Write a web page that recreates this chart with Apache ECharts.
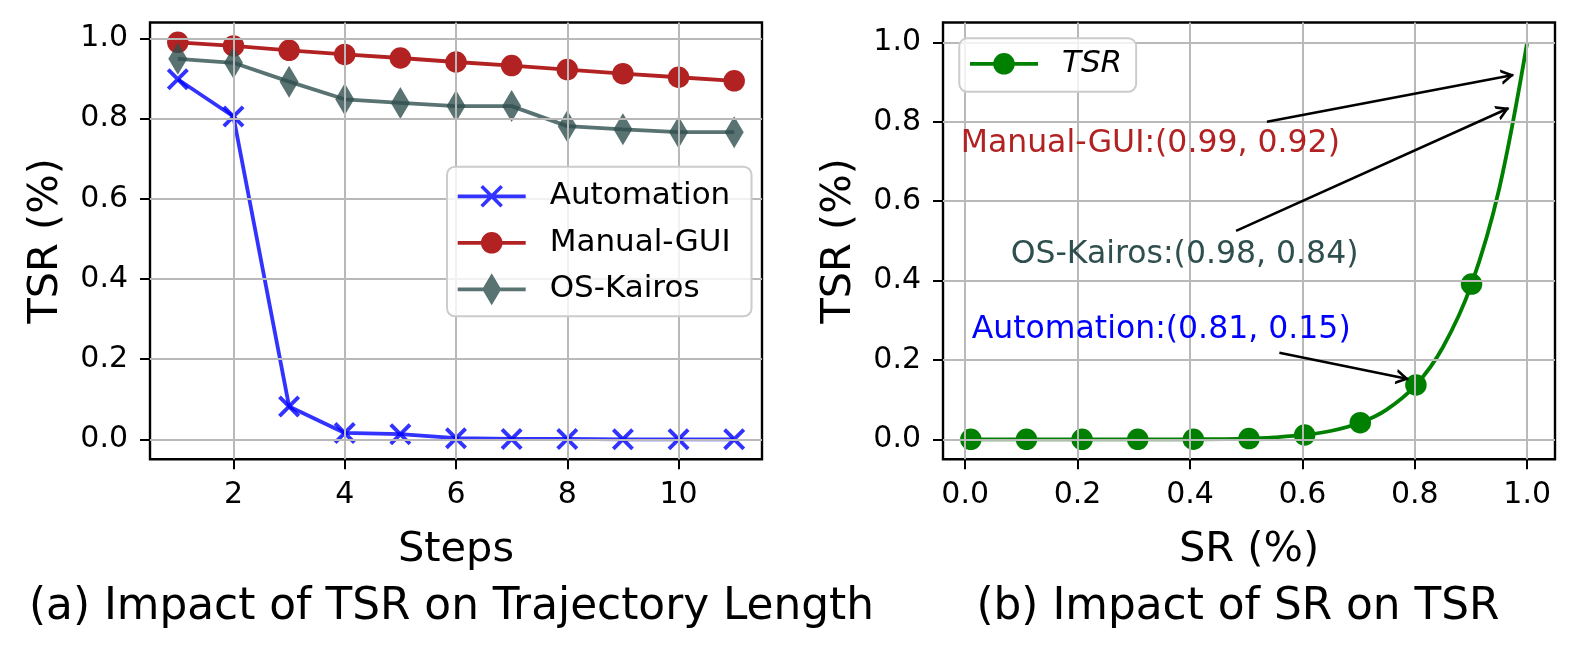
<!DOCTYPE html>
<html>
<head>
<meta charset="utf-8">
<script src="https://cdn.jsdelivr.net/npm/echarts@6/dist/echarts.min.js"></script>
<style>
html,body{margin:0;padding:0;background:#ffffff;}
#c{width:1578px;height:656px;}
</style>
</head>
<body>
<div id="c"></div>
<script>
// ---------- data ----------
const steps = [1, 2, 3, 4, 5, 6, 7, 8, 9, 10, 11];
const automation = [0.898, 0.805, 0.082, 0.016, 0.013, 0.003, 0.001, 0.001, 0.0, 0.0, 0.0];
const manualGUI  = [0.990, 0.981, 0.970, 0.960, 0.951, 0.941, 0.932, 0.922, 0.912, 0.903, 0.894];
const osKairos   = [0.949, 0.939, 0.892, 0.848, 0.839, 0.831, 0.831, 0.781, 0.773, 0.766, 0.766];

const markerSR  = [0.01, 0.109, 0.208, 0.307, 0.406, 0.505, 0.604, 0.703, 0.802, 0.901];
const markerTSR = [0.0, 0.0, 0.0, 0.0, 0.0003, 0.002, 0.011, 0.042, 0.137, 0.391];
const curveSR   = [0.55, 0.65, 0.75, 0.85, 0.95, 1.0];
const curveTSR  = [0.005, 0.021, 0.075, 0.232, 0.630, 1.0];

const annoText = ['Manual-GUI:(0.99, 0.92)', 'OS-Kairos:(0.98, 0.84)', 'Automation:(0.81, 0.15)'];
const annoTextPos = [[-0.008, 0.745], [0.081, 0.466], [0.0116, 0.277]];
const arrowFrom = [[0.537, 0.800], [0.482, 0.525], [0.559, 0.218]];
const arrowTo   = [[0.975, 0.918], [0.9665, 0.834], [0.788, 0.152]];

const stepTicks = [2, 4, 6, 8, 10];
const unitTicks = [0, 0.2, 0.4, 0.6, 0.8, 1.0];

// ---------- styling ----------
const FONT = 'DejaVu Sans';
const GRID_COLOR = '#b9b9b9';
const C_AUTO = 'rgba(0,0,255,0.8)';
const C_MAN = '#b22222';
const C_KAI = 'rgba(47,79,79,0.8)';
const C_TSR = '#008000';
const LW = 3.8;
const annoColors = ['#b22222', '#2f4f4f', '#0000ff'];

const xSym = 'path://M2.5,0 L10,7.5 L17.5,0 L20,2.5 L12.5,10 L20,17.5 L17.5,20 L10,12.5 L2.5,20 L0,17.5 L7.5,10 L0,2.5 Z';
const dSym = 'path://M5,0 L10,8 L5,16 L0,8 Z';
const arrowSym = 'path://M0,0 L0.01,0 L0,0.01 Z M20,20 L19.99,20 L20,19.99 Z M10,9 L16.5,20 L13.95,20 L10,13.32 L6.05,20 L3.5,20 Z';

const corners = 'M0,0 L0.01,0 L0,0.01 Z M68,32 L67.99,32 L68,31.99 Z ';
const barFull = 'M0,14.1 L68,14.1 L68,17.9 L0,17.9 Z ';
const barSplit = 'M0,14.1 L23.3,14.1 L23.3,17.9 L0,17.9 Z M44.7,14.1 L68,14.1 L68,17.9 L44.7,17.9 Z ';
const circ = 'M23.2,16 A10.8,10.8 0 1 1 44.8,16 A10.8,10.8 0 1 1 23.2,16 Z ';
const xIcon = 'M25.25,4.75 L45.25,24.75 L42.75,27.25 L22.75,7.25 Z M45.25,7.25 L25.25,27.25 L22.75,24.75 L42.75,4.75 Z ';
const dIcon = 'M34,0 L43.5,16 L34,32 L24.5,16 Z ';
const iconAuto = 'path://' + corners + barFull + xIcon;
const iconCirc = 'path://' + corners + barSplit + circ;
const iconKai = 'path://' + corners + barFull + dIcon;

function fmt1(v) { return Number(v).toFixed(1); }

function axis(gridIndex, min, max, ticks, formatter, name, nameGap, isY) {
  return {
    type: 'value', gridIndex: gridIndex, min: min, max: max,
    axisLine: { show: false, onZero: false },
    axisTick: { show: true, customValues: ticks, length: 10, lineStyle: { color: '#000', width: 2 } },
    axisLabel: { show: true, customValues: ticks, formatter: formatter, color: '#000',
                 fontFamily: FONT, fontSize: 30, margin: isY ? 22 : 21.5 },
    splitLine: { show: false },
    name: name, nameLocation: 'middle', nameGap: nameGap,
    nameTextStyle: { fontFamily: FONT, fontSize: 41.5, color: '#000' }
  };
}

function gridLines(xi, ticksX, ticksY) {
  return {
    type: 'line', name: '_grid' + xi, xAxisIndex: xi, yAxisIndex: xi, data: [], z: 1, silent: true,
    markLine: {
      silent: true, symbol: ['none', 'none'], label: { show: false },
      lineStyle: { color: GRID_COLOR, width: 2, type: 'solid' },
      emphasis: { disabled: true },
      data: ticksX.map(v => ({ xAxis: v })).concat(ticksY.map(v => ({ yAxis: v })))
    }
  };
}

// merge marker points and curve-only points for the TSR line
const tsrPoints = markerSR.map((x, i) => ({ value: [x, markerTSR[i]] }))
  .concat(curveSR.map((x, i) => ({ value: [x, curveTSR[i]], symbol: 'none' })))
  .sort((a, b) => a.value[0] - b.value[0]);

const legendCommon = {
  orient: 'vertical', itemWidth: 68, itemHeight: 32, itemGap: 14.5, z: 20,
  backgroundColor: 'rgba(255,255,255,0.8)', borderColor: '#cccccc', borderWidth: 2, borderRadius: 8,
  selectedMode: false, itemStyle: { borderWidth: 0 }
};

const option = {
  animation: false,
  backgroundColor: '#ffffff',
  textStyle: { fontFamily: FONT },
  grid: [
    { left: 150, top: 22.5, width: 612, height: 436.7, show: true, borderColor: '#000', borderWidth: 2.4, backgroundColor: 'transparent', containLabel: false },
    { left: 943, top: 22.5, width: 612, height: 436.7, show: true, borderColor: '#000', borderWidth: 2.4, backgroundColor: 'transparent', containLabel: false }
  ],
  xAxis: [
    axis(0, 0.5, 11.5, stepTicks, v => String(v), 'Steps', 70, false),
    axis(1, -0.0395, 1.0495, unitTicks, fmt1, 'SR (%)', 70, false)
  ],
  yAxis: [
    axis(0, -0.0495, 1.0395, unitTicks, fmt1, 'TSR (%)', 83, true),
    axis(1, -0.05, 1.05, unitTicks, fmt1, 'TSR (%)', 83, true)
  ],
  legend: [
    Object.assign({}, legendCommon, {
      left: 447, top: 166.7, padding: [13.6, 21, 11, 10.7],
      data: [{ name: 'Automation', icon: iconAuto }, { name: 'Manual-GUI', icon: iconCirc }, { name: 'OS-Kairos', icon: iconKai }],
      textStyle: { fontFamily: FONT, fontSize: 31, color: '#000', padding: [0, 0, 0, 19] }
    }),
    Object.assign({}, legendCommon, {
      left: 959.3, top: 38.3, padding: [9.5, 14, 12, 10.7],
      data: [{ name: 'TSR', icon: iconCirc }],
      textStyle: { fontFamily: FONT, fontSize: 31, color: '#000', fontStyle: 'italic', padding: [0, 0, 0, 19] }
    })
  ],
  graphic: [
    { type: 'text', x: 451.5, y: 608, silent: true,
      style: { text: '(a) Impact of TSR on Trajectory Length', fontFamily: FONT, fontSize: 43.8, fill: '#000', align: 'center', verticalAlign: 'middle' } },
    { type: 'text', x: 1238, y: 608, silent: true,
      style: { text: '(b) Impact of SR on TSR', fontFamily: FONT, fontSize: 43.8, fill: '#000', align: 'center', verticalAlign: 'middle' } }
  ],
  series: [
    gridLines(0, stepTicks, unitTicks),
    gridLines(1, unitTicks, unitTicks),
    {
      name: 'Automation', type: 'line', xAxisIndex: 0, yAxisIndex: 0, z: 3,
      data: steps.map((s, i) => [s, automation[i]]),
      symbol: xSym, symbolSize: 22,
      lineStyle: { color: C_AUTO, width: LW }, itemStyle: { color: C_AUTO, borderWidth: 0 }
    },
    {
      name: 'Manual-GUI', type: 'line', xAxisIndex: 0, yAxisIndex: 0, z: 3,
      data: steps.map((s, i) => [s, manualGUI[i]]),
      symbol: 'circle', symbolSize: 21.5,
      lineStyle: { color: C_MAN, width: LW }, itemStyle: { color: C_MAN, borderWidth: 0 }
    },
    {
      name: 'OS-Kairos', type: 'line', xAxisIndex: 0, yAxisIndex: 0, z: 3,
      data: steps.map((s, i) => [s, osKairos[i]]),
      symbol: dSym, symbolSize: [19, 32],
      lineStyle: { color: C_KAI, width: LW }, itemStyle: { color: C_KAI, borderWidth: 0 }
    },
    {
      name: 'TSR', type: 'line', xAxisIndex: 1, yAxisIndex: 1, z: 3,
      data: tsrPoints, smooth: 0.35,
      symbol: 'circle', symbolSize: 21.5,
      lineStyle: { color: C_TSR, width: LW }, itemStyle: { color: C_TSR, borderWidth: 0 }
    },
    {
      name: '_anno', type: 'scatter', xAxisIndex: 1, yAxisIndex: 1, z: 5, silent: true,
      symbolSize: 0, itemStyle: { color: 'rgba(0,0,0,0)', opacity: 1 },
      data: annoText.map((t, i) => ({ name: t, value: annoTextPos[i], label: { color: annoColors[i] } })),
      label: { show: true, position: 'right', distance: 0, formatter: '{b}', fontFamily: FONT, fontSize: 31.5, opacity: 1 }
    },
    {
      name: '_arrows', type: 'line', xAxisIndex: 1, yAxisIndex: 1, z: 5, silent: true, data: [],
      itemStyle: { color: '#000' }, lineStyle: { color: '#000' },
      markLine: {
        silent: true, symbol: ['none', arrowSym], symbolSize: 24,
        label: { show: false }, emphasis: { disabled: true },
        itemStyle: { color: '#000' },
        lineStyle: { color: '#000', width: 2.5, type: 'solid', opacity: 1 },
        data: arrowFrom.map((f, i) => [{ coord: f }, { coord: arrowTo[i] }])
      }
    }
  ]
};

const chart = echarts.init(document.getElementById('c'), null, { renderer: 'canvas' });
chart.setOption(option);
</script>
</body>
</html>
